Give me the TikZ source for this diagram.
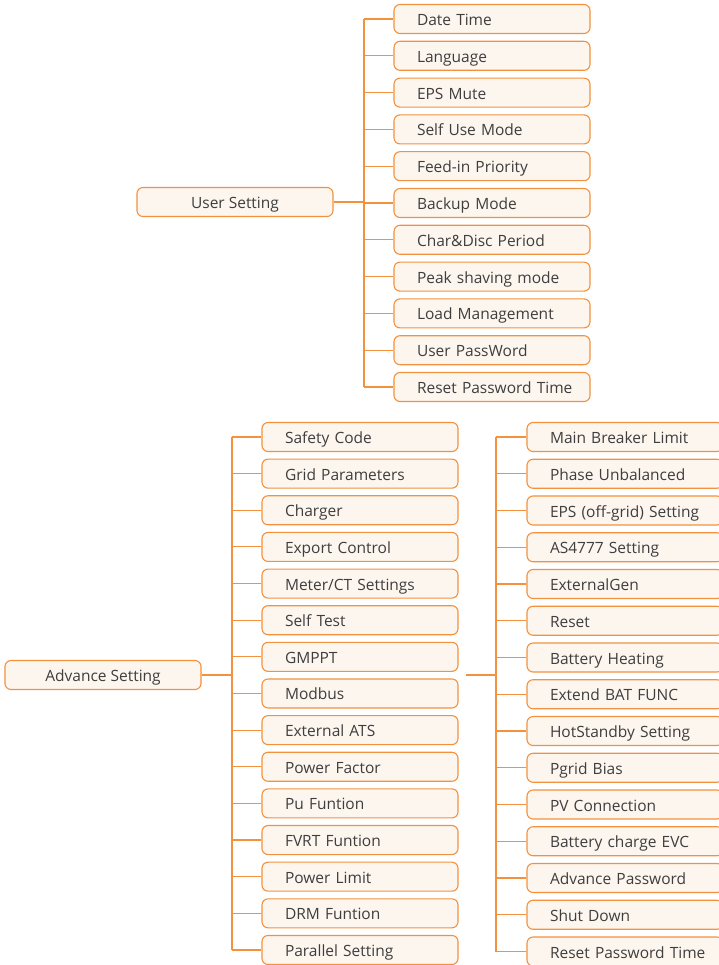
\documentclass[tikz,border=0pt]{standalone}
\usepackage{fontspec}
\setmainfont{Open Sans}
\usetikzlibrary{positioning}

\definecolor{menuline}{RGB}{243,145,62}
\definecolor{menufill}{RGB}{253,246,239}
\definecolor{menutext}{RGB}{62,62,62}

\begin{document}
\begin{tikzpicture}[x=1pt, y=-1pt,
    item/.style={draw=menuline, fill=menufill, line width=1.1pt, rounded corners=6pt,
        minimum width=196pt, minimum height=29pt, inner ysep=0pt,
        text height=14pt, text depth=1pt,
        text=menutext, font=\fontsize{15.5}{18}\selectfont},
    leaf/.style={item, inner xsep=0pt, text width=173pt, align=left,
        execute at begin node={\hspace*{11.5pt}}},
    link/.style={draw=menuline, line width=1.1pt}]
    \useasboundingbox (0,0) rectangle (719,965);

    % User Setting
    \node[item] (Nus) at (235,202) {User Setting};
    \coordinate (Tu) at (364,202);
    \foreach \lab [count=\idx] in {Date Time, Language, EPS Mute, Self Use Mode,
        Feed-in Priority, Backup Mode, Char\&Disc Period, Peak shaving mode,
        Load Management, User PassWord, Reset Password Time} {
        \node[leaf] (Nu\idx) at (492,{19+36.8*(\idx-1)}) {\lab};
        \draw[link] (Nu\idx.west -| Tu) -- (Nu\idx.west);
    }
    \draw[link] (Nu1.west -| Tu) -- (Nu11.west -| Tu);
    \draw[link] (Nus.east) -- (Tu);

    % Advance Setting, first column
    \node[item] (Nas) at (103,675) {Advance Setting};
    \coordinate (Ta) at (232,675);
    \foreach \lab [count=\idx] in {Safety Code, Grid Parameters, Charger, Export Control,
        Meter/CT Settings, Self Test, GMPPT, Modbus, External ATS, Power Factor,
        Pu Funtion, FVRT Funtion, Power Limit, DRM Funtion, Parallel Setting} {
        \node[leaf] (Na\idx) at (360,{437+36.64*(\idx-1)}) {\lab};
        \draw[link] (Na\idx.west -| Ta) -- (Na\idx.west);
    }
    \draw[link] (Na1.west -| Ta) -- (Na15.west -| Ta);
    \draw[link] (Nas.east) -- (Ta);

    % Advance Setting, second column
    \coordinate (Bs) at (466,675);
    \coordinate (Tb) at (496,675);
    \foreach \lab [count=\idx] in {Main Breaker Limit, Phase Unbalanced,
        EPS (off-grid) Setting, AS4777 Setting, ExternalGen, Reset, Battery Heating,
        Extend BAT FUNC, HotStandby Setting, Pgrid Bias, PV Connection,
        Battery charge EVC, Advance Password, Shut Down, Reset Password Time} {
        \node[leaf] (Nb\idx) at (625,{437+36.75*(\idx-1)}) {\lab};
        \draw[link] (Nb\idx.west -| Tb) -- (Nb\idx.west);
    }
    \draw[link] (Nb1.west -| Tb) -- (Nb15.west -| Tb);
    \draw[link] (Bs) -- (Tb);
\end{tikzpicture}
\end{document}
